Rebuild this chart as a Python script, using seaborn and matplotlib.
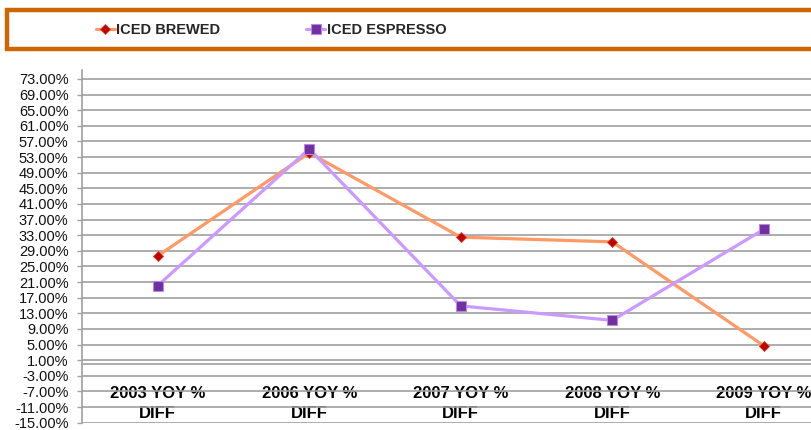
import matplotlib
matplotlib.use("Agg")
import matplotlib.pyplot as plt
from matplotlib.lines import Line2D
from matplotlib.patches import Rectangle
import numpy as np
import pandas as pd
import seaborn as sns

# Year-over-year % change by iced beverage type
categories = ["2003 YOY %\nDIFF", "2006 YOY %\nDIFF", "2007 YOY %\nDIFF",
              "2008 YOY %\nDIFF", "2009 YOY %\nDIFF"]
iced_brewed = [27.7, 54.1, 32.5, 31.3, 4.7]
iced_espresso = [20.1, 55.1, 14.9, 11.2, 34.5]
series_names = ["ICED BREWED", "ICED ESPRESSO"]
y_ticks = list(range(-15, 74, 4))

df = pd.DataFrame({
    "pos": list(range(len(categories))) * 2,
    "value": iced_brewed + iced_espresso,
    "series": [series_names[0]] * len(categories) + [series_names[1]] * len(categories),
})

sns.set_style("white")
plt.rcParams["font.family"] = ["Liberation Sans", "DejaVu Sans"]

fig = plt.figure(figsize=(8.11, 4.30), dpi=100)
ax = fig.add_axes([82 / 811, 7.3 / 430, 757.5 / 811, 352.7 / 430])

styles = {
    series_names[0]: dict(color="#FF9966", marker="D", markersize=5,
                          markerfacecolor="#C00000", markeredgecolor="#D84020",
                          markeredgewidth=0.6),
    series_names[1]: dict(color="#CC99FF", marker="s", markersize=7.5,
                          markerfacecolor="#7030A0", markeredgecolor="#B888E8",
                          markeredgewidth=0.8),
}
for name in series_names:
    sub = df[df["series"] == name]
    sns.lineplot(data=sub, x="pos", y="value", ax=ax, linewidth=2.3,
                 legend=False, zorder=3, **styles[name])

# spines first: moving the bottom spine rebuilds the x ticks
for s in ["top", "right"]:
    ax.spines[s].set_visible(False)
ax.spines["bottom"].set_position(("data", 0))
ax.spines["bottom"].set_color("#A0A0A0")
ax.spines["bottom"].set_linewidth(1.2)
ax.spines["left"].set_color("#A0A0A0")
ax.spines["left"].set_linewidth(1.2)

ax.set_xlim(-0.5, len(categories) - 0.5)
ax.set_ylim(-15, 75.3)
ax.set_xlabel("")
ax.set_ylabel("")

ax.tick_params(axis="x", which="major", direction="out", length=4.5,
               color="#A0A0A0", width=1.0)
ax.tick_params(axis="x", which="minor", length=0, pad=16)
ax.tick_params(axis="y", direction="out", length=3.3, color="#A0A0A0",
               width=1.0, pad=6.5, left=True)

ax.set_yticks(y_ticks)
ax.set_yticklabels([f"{v:.2f}%" for v in y_ticks])
for t in ax.get_yticklabels():
    t.set_fontsize(10.5)
    t.set_color("#111111")
ax.yaxis.grid(True, color="#A0A0A0", linewidth=1.2)
ax.set_axisbelow(True)

# category boundary ticks on the zero line, labels centered between them
ax.set_xticks(np.arange(0.5, len(categories) - 0.5, 1.0))
ax.set_xticklabels([])
ax.set_xticks(range(len(categories)), minor=True)
ax.set_xticklabels(categories, minor=True)
for t in ax.get_xticklabels(minor=True):
    t.set_fontsize(12)
    t.set_fontweight("bold")
    t.set_linespacing(1.38)
    t.set_color("black")

# legend band across the top
fig.patches.append(Rectangle((6.5 / 811, (430 - 48.5) / 430), 900 / 811, 39 / 430,
                             transform=fig.transFigure, facecolor="white",
                             edgecolor="#CC6600", linewidth=3.2, zorder=0))
handles = [Line2D([], [], **styles[n], linewidth=2.3) for n in series_names]
fig.legend(handles, series_names, ncol=2, loc="center",
           bbox_to_anchor=(271 / 811, 1 - 30 / 430), frameon=False,
           handlelength=1.3, handletextpad=0.1, columnspacing=5.9,
           prop=dict(family=["Liberation Sans", "DejaVu Sans"],
                     weight="bold", size=10.5))

fig.savefig("out.png", dpi=100)
